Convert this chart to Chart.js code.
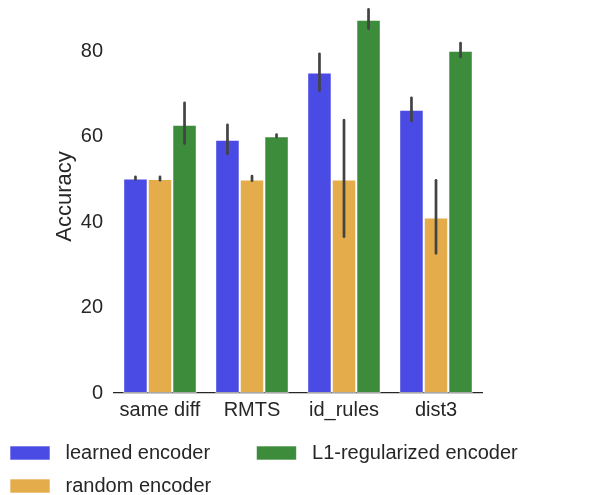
<!DOCTYPE html>
<html>
<head>
<meta charset="utf-8">
<script src="https://cdn.jsdelivr.net/npm/chart.js@4/dist/chart.umd.min.js"></script>
<style>
  body{margin:0;background:#fff;}
  #chart{display:block;}
</style>
</head>
<body>
<canvas id="chart" width="600" height="495"></canvas>
<script>
const categories=['same diff','RMTS','id_rules','dist3'];
const learned=[50.2,59.3,75.0,66.3];
const random=[50.1,50.0,50.0,41.1];
const l1reg=[62.8,60.1,87.4,80.1];
// confidence intervals [low, high]
const learnedCI=[[50.0,50.6],[56.0,62.8],[70.8,79.4],[63.7,69.1]];
const randomCI=[[49.8,50.6],[49.7,50.8],[36.6,63.9],[32.7,49.8]];
const l1regCI=[[58.4,67.9],[59.9,60.5],[85.3,89.8],[78.7,81.9]];
const yTicks=[0,20,40,60,80];

const ink='#262626';
const font='"Liberation Sans", Arial, sans-serif';

// draw the error bars on top of the bars
const errorBars={
    id:'errorBars',
    afterDatasetsDraw(chart){
        const ctx=chart.ctx;
        const y=chart.scales.y;
        ctx.save();
        ctx.strokeStyle='#434343';
        ctx.lineWidth=2.7;
        ctx.lineCap='round';
        chart.data.datasets.forEach((ds,i)=>{
            chart.getDatasetMeta(i).data.forEach((bar,j)=>{
                const [lo,hi]=ds.ci[j];
                ctx.beginPath();
                ctx.moveTo(bar.x,y.getPixelForValue(lo));
                ctx.lineTo(bar.x,y.getPixelForValue(hi));
                ctx.stroke();
            });
        });
        ctx.restore();
    }
};

const legendOrder=[0,2,1];
const legendText=[' learned encoder      ',' random encoder',' L1-regularized encoder'];

new Chart(document.querySelector('#chart'),{
    type:'bar',
    data:{
        labels:categories,
        datasets:[
            {label:'learned encoder',data:learned,ci:learnedCI,backgroundColor:'#4a4ae4'},
            {label:'random encoder',data:random,ci:randomCI,backgroundColor:'#e4ac4b'},
            {label:'L1-regularized encoder',data:l1reg,ci:l1regCI,backgroundColor:'#3c8c3c'}
        ]
    },
    options:{
        responsive:false,
        animation:false,
        datasets:{bar:{categoryPercentage:0.8,barPercentage:1.0,borderColor:'rgba(255,255,255,0.6)',borderWidth:1,borderSkipped:false}},
        layout:{padding:{left:-3,right:0,top:0,bottom:-11}},
        plugins:{
            tooltip:{enabled:false},
            legend:{
                position:'bottom',
                align:'start',
                labels:{
                    boxWidth:40,
                    boxHeight:14,
                    padding:13,
                    color:ink,
                    font:{family:font,size:20},
                    sort:(a,b)=>legendOrder.indexOf(a.datasetIndex)-legendOrder.indexOf(b.datasetIndex),
                    generateLabels(chart){
                        return chart.data.datasets.map((ds,i)=>({
                            text:legendText[i],
                            fillStyle:ds.backgroundColor,
                            strokeStyle:'rgba(255,255,255,0.6)',
                            lineWidth:1,
                            fontColor:ink,
                            datasetIndex:i
                        }));
                    }
                }
            }
        },
        scales:{
            x:{
                grid:{display:false,drawTicks:false},
                border:{display:true,color:ink,width:1.25},
                ticks:{color:ink,font:{family:font,size:20},padding:5},
                afterFit(s){s.height=37;s.paddingRight=118;}
            },
            y:{
                min:0,
                max:92,
                grid:{display:false,drawTicks:false},
                border:{display:false},
                ticks:{color:ink,font:{family:font,size:20},padding:11},
                afterBuildTicks(s){s.ticks=yTicks.map(v=>({value:v}));},
                title:{display:true,text:'Accuracy',color:ink,font:{family:font,size:22},padding:{top:55,bottom:0}},
                afterFit(s){s.width=117;s.paddingTop=0;}
            }
        }
    },
    plugins:[errorBars]
});
</script>
</body>
</html>
